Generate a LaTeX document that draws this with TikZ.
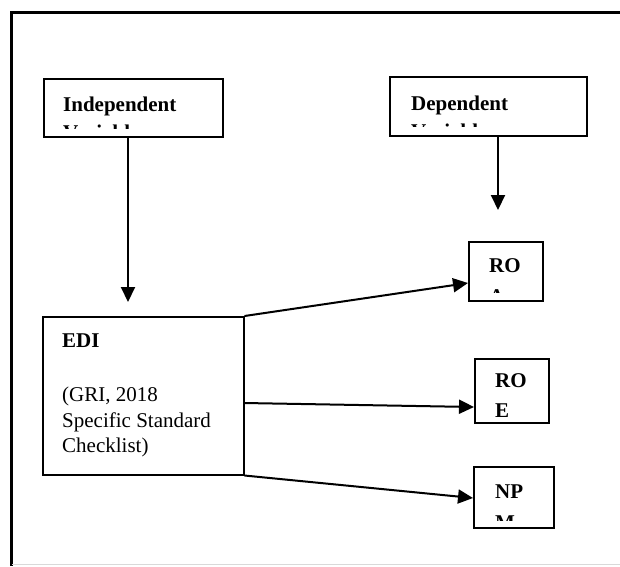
\documentclass[tikz,border=0pt]{standalone}
\usepackage{fontspec}
\setmainfont{Liberation Serif}
\usetikzlibrary{arrows.meta}
\begin{document}
\begin{tikzpicture}[x=1pt,y=-1pt,
  box/.style={draw, line width=1.5pt, inner sep=0pt, anchor=north west},
  lbl/.style={anchor=base west, inner sep=0pt, font=\fontsize{21}{24}\selectfont},
  blbl/.style={anchor=base west, inner sep=0pt, font=\fontsize{21}{24}\selectfont\bfseries},
  conn/.style={line width=2pt, -{Triangle[length=15pt,width=14pt]}}]
\useasboundingbox (0,0) rectangle (620,566);
% outer frame
\draw[line width=3pt] (11,566) -- (11,12.5) -- (620,12.5);
\draw[black!15, line width=0.8pt] (12,564.5) -- (620,564.5);
% boxes
\node[box, minimum width=179pt, minimum height=58pt] (indep) at (43,78) {};
\node[box, minimum width=197pt, minimum height=59pt] (dep) at (389,76) {};
\node[box, minimum width=201pt, minimum height=158pt] (edi) at (42,316) {};
\node[box, minimum width=74pt, minimum height=59pt] (roa) at (468,241) {};
\node[box, minimum width=74pt, minimum height=64pt] (roe) at (474,358) {};
\node[box, minimum width=80pt, minimum height=61pt] (npm) at (473,466) {};
% texts
\begin{scope}
\clip (44,79) rectangle (220,128);
\node[blbl] (t1) at (63,111) {Independent};
\node[blbl] (t2) at (63,139) {Variable};
\end{scope}
\begin{scope}
\clip (390,77) rectangle (585,126);
\node[blbl] (t3) at (411,110) {Dependent};
\node[blbl] (t4) at (411,138) {Variable};
\end{scope}
\begin{scope}
\clip (469,242) rectangle (541,292);
\node[blbl] (t5) at (489,272) {RO};
\node[blbl] (t6) at (489,303) {A};
\end{scope}
\node[blbl] (t7) at (495,387) {RO};
\node[blbl] (t8) at (495,417) {E};
\begin{scope}
\clip (474,467) rectangle (552,520);
\node[blbl] (t9) at (495,498) {NP};
\node[blbl] (t10) at (495,529) {M};
\end{scope}
\node[blbl] (t11) at (62,347) {EDI};
\node[lbl] (t12) at (62,401) {(GRI, 2018};
\node[lbl] (t13) at (62,427) {Specific Standard};
\node[lbl] (t14) at (62,452) {Checklist)};
% connectors
\coordinate (e1) at (128,302);
\coordinate (e2) at (498,210);
\draw[conn] (indep.south -| e1) -- (e1);
\draw[conn] (dep.south -| e2) -- (e2);
\draw[conn] (edi.north east) -- (roa.west |- 0,283);
\draw[conn] (edi.east |- 0,403) -- (roe.west |- 0,407);
\draw[conn] (edi.south east) -- (npm.west |- 0,498);
\end{tikzpicture}
\end{document}
